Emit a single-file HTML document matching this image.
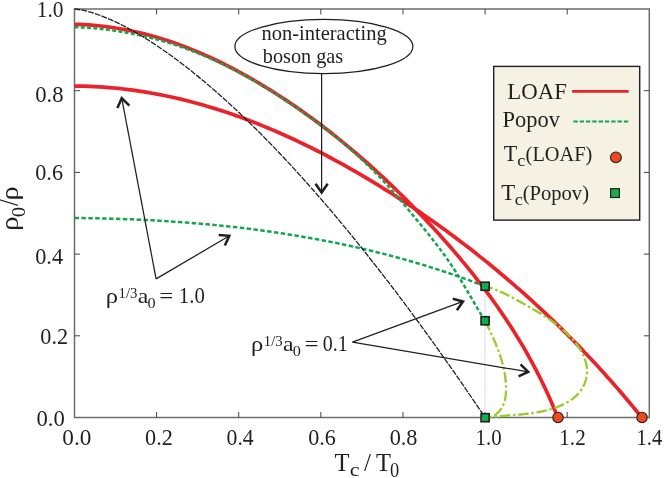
<!DOCTYPE html><html><head><meta charset="utf-8"><style>html,body{margin:0;padding:0;background:#fff}svg{display:block;will-change:transform}text{font-family:"Liberation Serif",serif;fill:#1f1f1f}</style></head><body>
<svg width="664" height="478" viewBox="0 0 664 478">
<rect width="664" height="478" fill="#fff"/>
<rect x="74.50" y="9.00" width="574.80" height="408.50" fill="none" stroke="#6c6c6c" stroke-width="1.5"/>
<path d="M156.61,417.50 v-5.5 M156.61,9.00 v5.5 M238.73,417.50 v-5.5 M238.73,9.00 v5.5 M320.84,417.50 v-5.5 M320.84,9.00 v5.5 M402.96,417.50 v-5.5 M402.96,9.00 v5.5 M485.07,417.50 v-5.5 M485.07,9.00 v5.5 M567.19,417.50 v-5.5 M567.19,9.00 v5.5 M74.50,335.80 h5.5 M649.30,335.80 h-5.5 M74.50,254.10 h5.5 M649.30,254.10 h-5.5 M74.50,172.40 h5.5 M649.30,172.40 h-5.5 M74.50,90.70 h5.5 M649.30,90.70 h-5.5" stroke="#444" stroke-width="1" fill="none"/>
<line x1="485" y1="286.5" x2="485" y2="417.5" stroke="#b4b8ee" stroke-width="0.9" stroke-dasharray="1.1,0.8"/>
<path d="M74.50,218.00 L77.51,218.03 L80.51,218.06 L83.52,218.09 L86.52,218.14 L89.53,218.18 L92.54,218.23 L95.54,218.29 L98.55,218.35 L101.56,218.42 L104.57,218.49 L107.58,218.57 L110.58,218.65 L113.59,218.74 L116.60,218.83 L119.61,218.93 L122.62,219.03 L125.63,219.14 L128.64,219.25 L131.65,219.37 L134.66,219.50 L137.67,219.63 L140.68,219.77 L143.68,219.91 L146.69,220.06 L149.70,220.21 L152.71,220.37 L155.72,220.53 L158.73,220.71 L161.74,220.88 L164.74,221.06 L167.75,221.25 L170.76,221.45 L173.77,221.65 L176.77,221.86 L179.78,222.07 L182.78,222.29 L185.79,222.52 L188.79,222.75 L191.80,222.99 L194.80,223.23 L197.81,223.48 L200.81,223.74 L203.81,224.00 L206.81,224.27 L209.81,224.55 L212.81,224.84 L215.81,225.13 L218.81,225.42 L221.81,225.73 L224.81,226.04 L227.80,226.36 L230.80,226.68 L233.79,227.01 L236.78,227.35 L239.78,227.70 L242.77,228.05 L245.76,228.41 L248.75,228.78 L251.74,229.15 L254.72,229.53 L257.71,229.92 L260.70,230.32 L263.68,230.72 L266.66,231.13 L269.64,231.55 L272.62,231.98 L275.60,232.41 L278.58,232.85 L281.56,233.30 L284.53,233.76 L287.51,234.22 L290.48,234.69 L293.45,235.17 L296.42,235.66 L299.39,236.16 L302.35,236.66 L305.32,237.17 L308.28,237.69 L311.24,238.22 L314.20,238.75 L317.16,239.30 L320.12,239.85 L323.07,240.41 L326.03,240.98 L328.98,241.56 L331.93,242.14 L334.88,242.73 L337.82,243.34 L340.77,243.95 L343.71,244.57 L346.65,245.19 L349.59,245.83 L352.53,246.47 L355.46,247.13 L358.39,247.79 L361.32,248.46 L364.25,249.14 L367.18,249.83 L370.10,250.53 L373.02,251.24 L375.94,251.95 L378.86,252.68 L381.78,253.41 L384.69,254.15 L387.60,254.91 L390.51,255.67 L393.41,256.44 L396.32,257.22 L399.22,258.01 L402.12,258.81 L405.01,259.61 L407.91,260.43 L410.80,261.26 L413.69,262.10 L416.57,262.94 L419.46,263.80 L422.34,264.66 L425.22,265.54 L428.09,266.43 L430.97,267.32 L433.84,268.23 L436.70,269.14 L439.57,270.07 L442.43,271.00 L445.29,271.95 L448.15,272.90 L451.00,273.87 L453.85,274.84 L456.70,275.83 L459.54,276.82 L462.38,277.83 L465.22,278.85 L468.06,279.87 L470.89,280.91 L473.72,281.96 L476.54,283.02 L479.37,284.08 L482.18,285.16 L485.00,286.25" fill="none" stroke="#12a650" stroke-width="2.5" stroke-dasharray="4.5,2.4"/>
<path d="M74.48,86.07 L79.42,86.12 L84.34,86.22 L89.25,86.38 L94.16,86.59 L99.05,86.86 L103.93,87.18 L108.81,87.55 L113.67,87.98 L118.52,88.46 L123.36,88.99 L128.19,89.57 L133.01,90.20 L137.82,90.88 L142.62,91.61 L147.41,92.39 L152.18,93.22 L156.95,94.09 L161.70,95.01 L166.45,95.98 L171.18,97.00 L175.90,98.06 L180.61,99.16 L185.31,100.31 L190.00,101.50 L194.68,102.74 L199.34,104.02 L204.00,105.34 L208.64,106.70 L213.27,108.11 L217.89,109.55 L222.50,111.04 L227.10,112.56 L231.69,114.12 L236.26,115.72 L240.82,117.36 L245.37,119.04 L249.91,120.75 L254.44,122.50 L258.95,124.28 L263.46,126.10 L267.95,127.96 L272.43,129.85 L276.89,131.77 L281.35,133.72 L285.79,135.71 L290.22,137.73 L294.64,139.78 L299.05,141.86 L303.44,143.97 L307.82,146.11 L312.19,148.28 L316.55,150.48 L320.89,152.70 L325.22,154.96 L329.54,157.24 L333.84,159.54 L338.14,161.88 L342.42,164.23 L346.69,166.61 L350.94,169.02 L355.18,171.45 L359.41,173.90 L363.63,176.38 L367.83,178.88 L372.02,181.40 L376.20,183.94 L380.36,186.50 L384.51,189.08 L388.65,191.67 L392.77,194.29 L396.88,196.93 L400.98,199.59 L405.06,202.26 L409.13,204.95 L413.19,207.67 L417.23,210.40 L421.26,213.15 L425.27,215.92 L429.27,218.70 L433.26,221.51 L437.23,224.33 L441.19,227.17 L445.14,230.03 L449.07,232.91 L452.99,235.81 L456.89,238.72 L460.78,241.66 L464.65,244.61 L468.51,247.58 L472.35,250.56 L476.18,253.57 L480.00,256.59 L483.80,259.63 L487.59,262.68 L491.36,265.76 L495.12,268.85 L498.86,271.96 L502.58,275.09 L506.30,278.23 L509.99,281.39 L513.67,284.57 L517.34,287.77 L520.99,290.98 L524.63,294.21 L528.25,297.46 L531.85,300.72 L535.44,304.00 L539.02,307.30 L542.57,310.61 L546.12,313.95 L549.64,317.29 L553.16,320.66 L556.65,324.04 L560.13,327.43 L563.59,330.85 L567.04,334.28 L570.47,337.72 L573.89,341.18 L577.29,344.66 L580.67,348.15 L584.04,351.66 L587.39,355.19 L590.72,358.73 L594.04,362.29 L597.34,365.86 L600.62,369.45 L603.89,373.06 L607.14,376.68 L610.38,380.31 L613.59,383.96 L616.80,387.63 L619.98,391.31 L623.15,395.01 L626.29,398.72 L629.43,402.45 L632.54,406.19 L635.64,409.95 L638.72,413.72 L641.78,417.51" fill="none" stroke="#ea2229" stroke-width="3.7" stroke-linejoin="round"/>
<path d="M74.47,24.34 L79.27,24.47 L84.04,24.68 L88.79,24.97 L93.52,25.33 L98.24,25.76 L102.93,26.27 L107.61,26.84 L112.26,27.49 L116.89,28.21 L121.51,28.99 L126.11,29.84 L130.68,30.76 L135.24,31.74 L139.78,32.79 L144.30,33.90 L148.80,35.07 L153.28,36.30 L157.74,37.59 L162.18,38.94 L166.61,40.34 L171.02,41.80 L175.40,43.31 L179.77,44.88 L184.12,46.50 L188.45,48.18 L192.77,49.90 L197.06,51.67 L201.34,53.49 L205.60,55.36 L209.84,57.27 L214.06,59.23 L218.27,61.23 L222.45,63.27 L226.62,65.35 L230.77,67.48 L234.91,69.64 L239.02,71.84 L243.12,74.08 L247.20,76.36 L251.27,78.66 L255.32,81.01 L259.34,83.38 L263.36,85.79 L267.35,88.22 L271.33,90.69 L275.29,93.19 L279.23,95.71 L283.16,98.27 L287.07,100.86 L290.96,103.47 L294.83,106.11 L298.69,108.78 L302.53,111.47 L306.36,114.20 L310.16,116.95 L313.95,119.72 L317.72,122.53 L321.47,125.35 L325.21,128.21 L328.93,131.08 L332.63,133.98 L336.32,136.91 L339.98,139.86 L343.63,142.83 L347.27,145.83 L350.88,148.85 L354.48,151.89 L358.06,154.95 L361.63,158.03 L365.17,161.14 L368.70,164.26 L372.21,167.41 L375.71,170.57 L379.18,173.76 L382.64,176.96 L386.08,180.18 L389.51,183.42 L392.92,186.68 L396.31,189.96 L399.68,193.25 L403.03,196.56 L406.37,199.89 L409.69,203.24 L412.99,206.59 L416.28,209.97 L419.55,213.36 L422.80,216.76 L426.03,220.18 L429.25,223.62 L432.44,227.06 L435.63,230.52 L438.79,234.00 L441.93,237.49 L445.05,240.99 L448.16,244.51 L451.24,248.04 L454.30,251.59 L457.35,255.15 L460.37,258.73 L463.36,262.32 L466.34,265.93 L469.29,269.56 L472.22,273.20 L475.12,276.86 L478.00,280.54 L480.86,284.23 L483.69,287.94 L486.49,291.67 L489.26,295.42 L492.01,299.19 L494.73,302.97 L497.43,306.78 L500.09,310.60 L502.73,314.44 L505.33,318.30 L507.91,322.18 L510.45,326.09 L512.96,330.01 L515.45,333.95 L517.90,337.91 L520.32,341.90 L522.70,345.90 L525.05,349.93 L527.37,353.98 L529.65,358.05 L531.90,362.14 L534.11,366.26 L536.29,370.40 L538.43,374.56 L540.53,378.74 L542.60,382.95 L544.62,387.19 L546.61,391.44 L548.56,395.72 L550.47,400.03 L552.34,404.36 L554.18,408.71 L555.96,413.09 L557.71,417.50" fill="none" stroke="#ea2229" stroke-width="3.7" stroke-linejoin="round"/>
<path d="M485.00,286.25 L486.79,286.73 L488.57,287.25 L490.34,287.81 L492.10,288.41 L493.84,289.03 L495.58,289.69 L497.31,290.38 L499.03,291.10 L500.74,291.84 L502.45,292.61 L504.14,293.40 L505.83,294.21 L507.51,295.04 L509.18,295.88 L510.84,296.74 L512.50,297.62 L514.15,298.50 L515.79,299.40 L517.42,300.30 L519.05,301.21 L520.68,302.12 L522.30,303.03 L523.91,303.94 L525.52,304.85 L527.12,305.76 L528.72,306.67 L530.31,307.58 L531.90,308.49 L533.48,309.40 L535.05,310.31 L536.62,311.24 L538.19,312.16 L539.74,313.10 L541.29,314.05 L542.84,315.01 L544.37,315.98 L545.90,316.97 L547.42,317.97 L548.94,318.99 L550.45,320.02 L551.95,321.08 L553.44,322.16 L554.92,323.26 L556.40,324.38 L557.87,325.53 L559.33,326.71 L560.78,327.92 L562.22,329.15 L563.65,330.42 L565.08,331.72 L566.48,333.04 L567.87,334.40 L569.24,335.79 L570.59,337.20 L571.91,338.64 L573.19,340.11 L574.45,341.60 L575.66,343.11 L576.83,344.65 L577.95,346.20 L579.03,347.78 L580.06,349.38 L581.03,351.00 L581.94,352.63 L582.78,354.28 L583.57,355.95 L584.28,357.63 L584.92,359.32 L585.48,361.03 L585.96,362.75 L586.36,364.47 L586.67,366.21 L586.89,367.96 L587.02,369.71 L587.05,371.47 L586.98,373.24 L586.81,375.01 L586.55,376.77 L586.19,378.52 L585.73,380.25 L585.18,381.97 L584.55,383.66 L583.82,385.31 L583.01,386.93 L582.11,388.51 L581.13,390.03 L580.06,391.51 L578.92,392.92 L577.70,394.28 L576.41,395.58 L575.05,396.82 L573.63,398.01 L572.15,399.14 L570.62,400.22 L569.03,401.25 L567.40,402.23 L565.74,403.16 L564.03,404.04 L562.29,404.87 L560.53,405.66 L558.74,406.40 L556.94,407.11 L555.12,407.77 L553.29,408.39 L551.45,408.97 L549.62,409.51 L547.78,410.02 L545.95,410.49 L544.12,410.93 L542.28,411.34 L540.45,411.72 L538.62,412.08 L536.78,412.40 L534.95,412.71 L533.12,412.99 L531.28,413.25 L529.45,413.49 L527.62,413.71 L525.78,413.92 L523.95,414.12 L522.12,414.30 L520.28,414.47 L518.45,414.63 L516.61,414.79 L514.78,414.94 L512.94,415.08 L511.10,415.22 L509.26,415.37 L507.43,415.51 L505.59,415.66 L503.75,415.81 L501.91,415.97 L500.07,416.14 L498.23,416.31 L496.38,416.50 L494.54,416.70 L492.69,416.92 L490.85,417.15 L489.00,417.40" fill="none" stroke="#9bcb2e" stroke-width="2.35" stroke-dashoffset="2.5" stroke-dasharray="10.5,2.7,2.5,2.7"/>
<path d="M485.01,320.75 L485.35,321.44 L485.69,322.13 L486.03,322.82 L486.37,323.51 L486.71,324.21 L487.04,324.90 L487.38,325.59 L487.72,326.28 L488.06,326.98 L488.39,327.67 L488.72,328.37 L489.06,329.06 L489.39,329.76 L489.72,330.45 L490.05,331.15 L490.38,331.85 L490.71,332.54 L491.03,333.24 L491.36,333.94 L491.68,334.64 L492.00,335.34 L492.32,336.04 L492.64,336.74 L492.95,337.44 L493.27,338.15 L493.58,338.85 L493.89,339.55 L494.19,340.26 L494.50,340.97 L494.80,341.67 L495.10,342.38 L495.40,343.09 L495.70,343.80 L495.99,344.51 L496.28,345.23 L496.57,345.94 L496.85,346.65 L497.13,347.37 L497.41,348.09 L497.69,348.80 L497.96,349.52 L498.23,350.24 L498.50,350.97 L498.76,351.69 L499.02,352.41 L499.28,353.14 L499.53,353.87 L499.78,354.59 L500.03,355.32 L500.27,356.05 L500.51,356.79 L500.74,357.52 L500.97,358.26 L501.20,358.99 L501.42,359.73 L501.64,360.47 L501.85,361.22 L502.06,361.96 L502.27,362.70 L502.47,363.45 L502.67,364.20 L502.86,364.95 L503.04,365.70 L503.23,366.46 L503.40,367.21 L503.58,367.97 L503.75,368.73 L503.91,369.49 L504.07,370.25 L504.22,371.02 L504.37,371.79 L504.51,372.56 L504.65,373.33 L504.78,374.10 L504.90,374.88 L505.03,375.65 L505.14,376.43 L505.25,377.22 L505.35,378.00 L505.45,378.79 L505.54,379.57 L505.63,380.37 L505.71,381.16 L505.78,381.95 L505.85,382.75 L505.91,383.55 L505.96,384.34 L506.00,385.14 L506.04,385.94 L506.06,386.74 L506.08,387.54 L506.09,388.33 L506.09,389.12 L506.08,389.92 L506.06,390.71 L506.03,391.49 L505.99,392.28 L505.93,393.06 L505.87,393.83 L505.79,394.61 L505.71,395.37 L505.61,396.14 L505.49,396.89 L505.36,397.65 L505.22,398.39 L505.07,399.13 L504.90,399.86 L504.72,400.59 L504.52,401.30 L504.31,402.01 L504.08,402.71 L503.83,403.41 L503.57,404.09 L503.30,404.76 L503.00,405.43 L502.69,406.08 L502.36,406.72 L502.01,407.36 L501.65,407.98 L501.27,408.58 L500.86,409.18 L500.44,409.76 L500.00,410.34 L499.54,410.89 L499.06,411.44 L498.55,411.97 L498.03,412.48 L497.49,412.98 L496.92,413.47 L496.33,413.94 L495.72,414.39 L495.09,414.83 L494.44,415.25 L493.76,415.66 L493.05,416.05 L492.33,416.41 L491.58,416.77 L490.80,417.10 L490.00,417.41" fill="none" stroke="#9bcb2e" stroke-width="2.35" stroke-dasharray="10.5,2.7,2.5,2.7"/>
<path d="M74.50,27.13 L78.28,27.28 L82.06,27.46 L85.83,27.69 L89.61,27.95 L93.38,28.25 L97.16,28.60 L100.93,28.98 L104.70,29.41 L108.46,29.87 L112.22,30.37 L115.97,30.91 L119.72,31.49 L123.47,32.11 L127.21,32.77 L130.94,33.47 L134.66,34.21 L138.38,34.99 L142.09,35.80 L145.79,36.65 L149.48,37.55 L153.16,38.48 L156.83,39.44 L160.49,40.45 L164.14,41.49 L167.77,42.58 L171.39,43.70 L175.01,44.86 L178.60,46.05 L182.18,47.28 L185.75,48.55 L189.31,49.86 L192.84,51.21 L196.37,52.59 L199.88,54.00 L203.37,55.45 L206.86,56.93 L210.32,58.45 L213.78,59.99 L217.22,61.57 L220.64,63.18 L224.05,64.82 L227.45,66.49 L230.84,68.19 L234.21,69.91 L237.57,71.67 L240.91,73.45 L244.25,75.25 L247.57,77.08 L250.88,78.94 L254.17,80.82 L257.45,82.72 L260.72,84.65 L263.98,86.59 L267.23,88.56 L270.46,90.55 L273.68,92.56 L276.89,94.59 L280.09,96.63 L283.28,98.70 L286.45,100.78 L289.62,102.88 L292.77,104.99 L295.91,107.13 L299.03,109.28 L302.15,111.45 L305.25,113.63 L308.33,115.84 L311.40,118.06 L314.46,120.31 L317.50,122.57 L320.53,124.85 L323.54,127.15 L326.54,129.47 L329.52,131.81 L332.48,134.17 L335.43,136.55 L338.36,138.95 L341.27,141.37 L344.16,143.81 L347.04,146.27 L349.89,148.75 L352.73,151.25 L355.55,153.78 L358.35,156.32 L361.13,158.89 L363.89,161.48 L366.63,164.09 L369.34,166.72 L372.04,169.38 L374.71,172.06 L377.37,174.76 L380.00,177.48 L382.61,180.23 L385.19,183.00 L387.75,185.79 L390.29,188.60 L392.81,191.44 L395.32,194.29 L397.80,197.16 L400.27,200.04 L402.73,202.94 L405.17,205.85 L407.61,208.76 L410.03,211.69 L412.45,214.62 L414.87,217.55 L417.28,220.49 L419.68,223.43 L422.09,226.37 L424.48,229.31 L426.87,232.26 L429.25,235.22 L431.61,238.19 L433.95,241.17 L436.27,244.16 L438.57,247.17 L440.84,250.19 L443.08,253.23 L445.29,256.30 L447.47,259.39 L449.61,262.50 L451.71,265.64 L453.78,268.80 L455.81,271.99 L457.81,275.19 L459.79,278.42 L461.75,281.65 L463.70,284.90 L465.62,288.16 L467.54,291.43 L469.46,294.70 L471.37,297.97 L473.28,301.24 L475.20,304.52 L477.12,307.78 L479.06,311.04 L481.02,314.29 L482.99,317.53 L484.99,320.75" fill="none" stroke="#12a650" stroke-width="2.5" stroke-dasharray="3.9,2.4"/>
<path d="M74.50,9.00 L81.34,9.88 L88.19,11.49 L95.03,13.57 L101.87,16.03 L108.71,18.83 L115.56,21.92 L122.40,25.28 L129.24,28.89 L136.09,32.73 L142.93,36.79 L149.77,41.07 L156.61,45.54 L163.46,50.20 L170.30,55.04 L177.14,60.06 L183.99,65.25 L190.83,70.61 L197.67,76.12 L204.51,81.79 L211.36,87.62 L218.20,93.59 L225.04,99.70 L231.89,105.95 L238.73,112.34 L245.57,118.87 L252.41,125.53 L259.26,132.31 L266.10,139.23 L272.94,146.27 L279.79,153.43 L286.63,160.71 L293.47,168.11 L300.31,175.62 L307.16,183.25 L314.00,191.00 L320.84,198.85 L327.69,206.82 L334.53,214.89 L341.37,223.07 L348.21,231.36 L355.06,239.75 L361.90,248.24 L368.74,256.84 L375.59,265.53 L382.43,274.33 L389.27,283.22 L396.11,292.21 L402.96,301.30 L409.80,310.48 L416.64,319.76 L423.49,329.13 L430.33,338.59 L437.17,348.14 L444.01,357.78 L450.86,367.52 L457.70,377.34 L464.54,387.25 L471.39,397.25 L478.23,407.33 L485.07,417.50" fill="none" stroke="#222" stroke-width="1.3" stroke-dasharray="5.8,1.2"/>
<rect x="481.05" y="282.20" width="8.1" height="8.1" fill="#10ad4e" stroke="#1f1f1f" stroke-width="1.6"/>
<rect x="481.05" y="316.70" width="8.1" height="8.1" fill="#10ad4e" stroke="#1f1f1f" stroke-width="1.6"/>
<rect x="481.05" y="413.65" width="8.1" height="8.1" fill="#10ad4e" stroke="#1f1f1f" stroke-width="1.6"/>
<circle cx="558.00" cy="417.50" r="5.2" fill="#ee4a22" stroke="#1f1f1f" stroke-width="1.1"/>
<circle cx="642.00" cy="417.50" r="5.2" fill="#ee4a22" stroke="#1f1f1f" stroke-width="1.1"/>
<ellipse cx="323.9" cy="46.45" rx="89.0" ry="27.1" fill="#fff" stroke="#1f1f1f" stroke-width="1.25"/>
<text x="261.43" y="39.90" font-size="21.80" textLength="125.21" lengthAdjust="spacingAndGlyphs">non-interacting</text>
<text x="262.75" y="62.90" font-size="21.80" textLength="80.48" lengthAdjust="spacingAndGlyphs">boson gas</text>
<line x1="321.60" y1="73.50" x2="321.60" y2="192.70" stroke="#1f1f1f" stroke-width="1.25"/><polyline points="315.50,183.80 321.60,192.55 327.70,183.80" fill="none" stroke="#1f1f1f" stroke-width="2.50" stroke-linejoin="miter"/>
<line x1="156.10" y1="278.90" x2="121.72" y2="98.06" stroke="#1f1f1f" stroke-width="1.25"/><polyline points="129.37,105.66 121.74,98.20 117.39,107.94" fill="none" stroke="#1f1f1f" stroke-width="2.50" stroke-linejoin="miter"/>
<line x1="156.10" y1="278.90" x2="229.45" y2="235.77" stroke="#1f1f1f" stroke-width="1.25"/><polyline points="224.87,245.54 229.32,235.84 218.68,235.02" fill="none" stroke="#1f1f1f" stroke-width="2.50" stroke-linejoin="miter"/>
<line x1="352.40" y1="342.20" x2="463.15" y2="301.46" stroke="#1f1f1f" stroke-width="1.25"/><polyline points="456.91,310.26 463.01,301.51 452.70,298.81" fill="none" stroke="#1f1f1f" stroke-width="2.50" stroke-linejoin="miter"/>
<line x1="352.40" y1="342.20" x2="528.33" y2="371.88" stroke="#1f1f1f" stroke-width="1.25"/><polyline points="518.54,376.42 528.19,371.86 520.57,364.39" fill="none" stroke="#1f1f1f" stroke-width="2.50" stroke-linejoin="miter"/>
<text x="105.66" y="302.75" font-size="21.50" textLength="12.28" lengthAdjust="spacingAndGlyphs">ρ</text><text x="118.55" y="298.10" font-size="15.00" textLength="18.88" lengthAdjust="spacingAndGlyphs">1/3</text><text x="137.71" y="302.75" font-size="21.50" textLength="10.56" lengthAdjust="spacingAndGlyphs">a</text><text x="147.48" y="307.75" font-size="15.00" textLength="8.08" lengthAdjust="spacingAndGlyphs">0</text><text x="159.31" y="302.75" font-size="21.50" textLength="14.06" lengthAdjust="spacingAndGlyphs">=</text><text x="178.77" y="302.75" font-size="22.30" textLength="26.02" lengthAdjust="spacingAndGlyphs">1.0</text>
<text x="250.91" y="350.60" font-size="21.50" textLength="12.28" lengthAdjust="spacingAndGlyphs">ρ</text><text x="263.80" y="345.95" font-size="15.00" textLength="18.88" lengthAdjust="spacingAndGlyphs">1/3</text><text x="282.96" y="350.60" font-size="21.50" textLength="10.56" lengthAdjust="spacingAndGlyphs">a</text><text x="292.73" y="355.60" font-size="15.00" textLength="8.08" lengthAdjust="spacingAndGlyphs">0</text><text x="304.56" y="350.60" font-size="21.50" textLength="14.06" lengthAdjust="spacingAndGlyphs">=</text><text x="322.74" y="350.60" font-size="22.30" textLength="24.96" lengthAdjust="spacingAndGlyphs">0.1</text>
<rect x="493.7" y="66.4" width="146.0" height="153.7" fill="#f5f2e3" stroke="#1f1f1f" stroke-width="1.4"/>
<text x="507.34" y="98.75" font-size="22.30" textLength="59.58" lengthAdjust="spacingAndGlyphs">LOAF</text>
<line x1="572.1" y1="91.4" x2="628.7" y2="91.4" stroke="#ea2229" stroke-width="2.8"/>
<text x="502.60" y="126.70" font-size="22.30" textLength="57.30" lengthAdjust="spacingAndGlyphs">Popov</text>
<line x1="573.4" y1="121.6" x2="628.2" y2="121.6" stroke="#12a650" stroke-width="2" stroke-dasharray="4.4,1.9"/>
<text x="503.85" y="161.00" font-size="22.30" textLength="13.52" lengthAdjust="spacingAndGlyphs">T</text>
<text x="517.30" y="166.30" font-size="17.20" textLength="8.17" lengthAdjust="spacingAndGlyphs">c</text>
<text x="525.60" y="161.00" font-size="21.70" textLength="66.79" lengthAdjust="spacingAndGlyphs">(LOAF)</text>
<circle cx="615.9" cy="157.4" r="5.4" fill="#ee4a22" stroke="#1f1f1f" stroke-width="1.1"/>
<text x="501.34" y="199.70" font-size="22.30" textLength="13.94" lengthAdjust="spacingAndGlyphs">T</text>
<text x="514.80" y="204.60" font-size="17.20" textLength="8.17" lengthAdjust="spacingAndGlyphs">c</text>
<text x="522.70" y="199.70" font-size="21.70" textLength="66.31" lengthAdjust="spacingAndGlyphs">(Popov)</text>
<rect x="610.6" y="188.7" width="8.8" height="8.8" fill="#1bad4b" stroke="#1f1f1f" stroke-width="1.2"/>
<text x="62.37" y="444.80" font-size="22.50" textLength="29.02" lengthAdjust="spacingAndGlyphs">0.0</text>
<text x="145.05" y="444.80" font-size="22.50" textLength="27.77" lengthAdjust="spacingAndGlyphs">0.2</text>
<text x="226.57" y="444.80" font-size="22.50" textLength="27.12" lengthAdjust="spacingAndGlyphs">0.4</text>
<text x="308.26" y="444.80" font-size="22.50" textLength="27.60" lengthAdjust="spacingAndGlyphs">0.6</text>
<text x="389.65" y="444.80" font-size="22.50" textLength="27.79" lengthAdjust="spacingAndGlyphs">0.8</text>
<text x="475.56" y="444.80" font-size="22.50" textLength="26.13" lengthAdjust="spacingAndGlyphs">1.0</text>
<text x="559.35" y="444.80" font-size="22.50" textLength="26.31" lengthAdjust="spacingAndGlyphs">1.2</text>
<text x="636.60" y="444.80" font-size="22.50" textLength="25.62" lengthAdjust="spacingAndGlyphs">1.4</text>
<text x="36.72" y="16.55" font-size="22.50" textLength="26.80" lengthAdjust="spacingAndGlyphs">1.0</text>
<text x="35.24" y="101.55" font-size="22.50" textLength="28.33" lengthAdjust="spacingAndGlyphs">0.8</text>
<text x="35.25" y="180.05" font-size="22.50" textLength="27.76" lengthAdjust="spacingAndGlyphs">0.6</text>
<text x="35.25" y="264.05" font-size="22.50" textLength="27.79" lengthAdjust="spacingAndGlyphs">0.4</text>
<text x="40.25" y="343.80" font-size="22.50" textLength="27.83" lengthAdjust="spacingAndGlyphs">0.2</text>
<text x="36.54" y="425.90" font-size="22.50" textLength="28.33" lengthAdjust="spacingAndGlyphs">0.0</text>
<text x="334.46" y="470.70" font-size="24.60" textLength="14.95" lengthAdjust="spacingAndGlyphs">T</text>
<text x="349.66" y="475.60" font-size="19.50" textLength="9.82" lengthAdjust="spacingAndGlyphs">c</text>
<text x="364.00" y="470.60" font-size="25.00" textLength="7.00" lengthAdjust="spacingAndGlyphs">/</text>
<text x="376.06" y="470.70" font-size="24.60" textLength="14.95" lengthAdjust="spacingAndGlyphs">T</text>
<text x="390.10" y="477.20" font-size="20.50" textLength="9.20" lengthAdjust="spacingAndGlyphs">0</text>
<g transform="translate(17.5,229.25) rotate(-90)">
<text x="-1.88" y="0.00" font-size="24.30" textLength="14.56" lengthAdjust="spacingAndGlyphs">ρ</text>
<text x="12.01" y="7.80" font-size="18.30" textLength="10.38" lengthAdjust="spacingAndGlyphs">0</text>
<text x="23.30" y="0.30" font-size="27.50" textLength="6.70" lengthAdjust="spacingAndGlyphs">/</text>
<text x="28.82" y="0.00" font-size="24.30" textLength="14.18" lengthAdjust="spacingAndGlyphs">ρ</text>
</g>
</svg></body></html>
